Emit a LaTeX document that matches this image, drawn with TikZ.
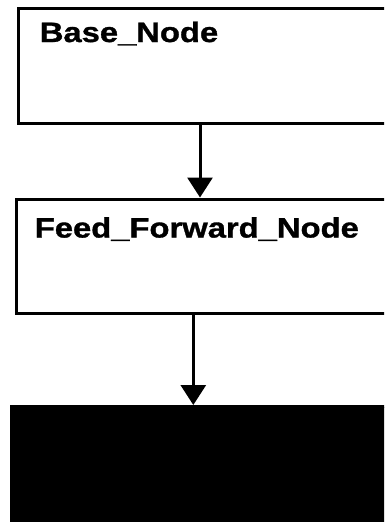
\documentclass[tikz,border=0pt]{standalone}
\usepackage{fontspec}
\newfontfamily\labfont[FakeStretch=1.17,FakeBold=1.2]{Liberation Sans}
\usetikzlibrary{arrows.meta}
\begin{document}
\begin{tikzpicture}[x=1pt,y=-1pt,
  box/.style={draw=black,line width=3pt,rectangle,inner sep=0pt,anchor=north west},
  lbl/.style={inner sep=0pt,anchor=base west,font=\labfont\bfseries\fontsize{28}{32}\selectfont},
  conn/.style={line width=3pt,-{Triangle[width=25pt,length=20pt]}}]
\useasboundingbox (0,0) rectangle (384,522);
\clip (0,0) rectangle (384,522);
\node[box,minimum width=400pt,minimum height=115pt] (b1) at (16.5,6.5) {};
\node[box,minimum width=400pt,minimum height=114pt] (b2) at (15,197.5) {};
\node[box,fill=black,minimum width=400pt,minimum height=130pt] (b3) at (10,405) {};
\node[lbl] (t1) at (39.6,42) {Base\_Node};
\node[lbl] (t2) at (34.6,237.5) {Feed\_Forward\_Node};
\coordinate (ax1) at (200,0);
\coordinate (ax2) at (193.3,0);
\draw[conn] (b1.south -| ax1) -- (b2.north -| ax1);
\draw[conn] (b2.south -| ax2) -- (b3.north -| ax2);
\end{tikzpicture}
\end{document}
